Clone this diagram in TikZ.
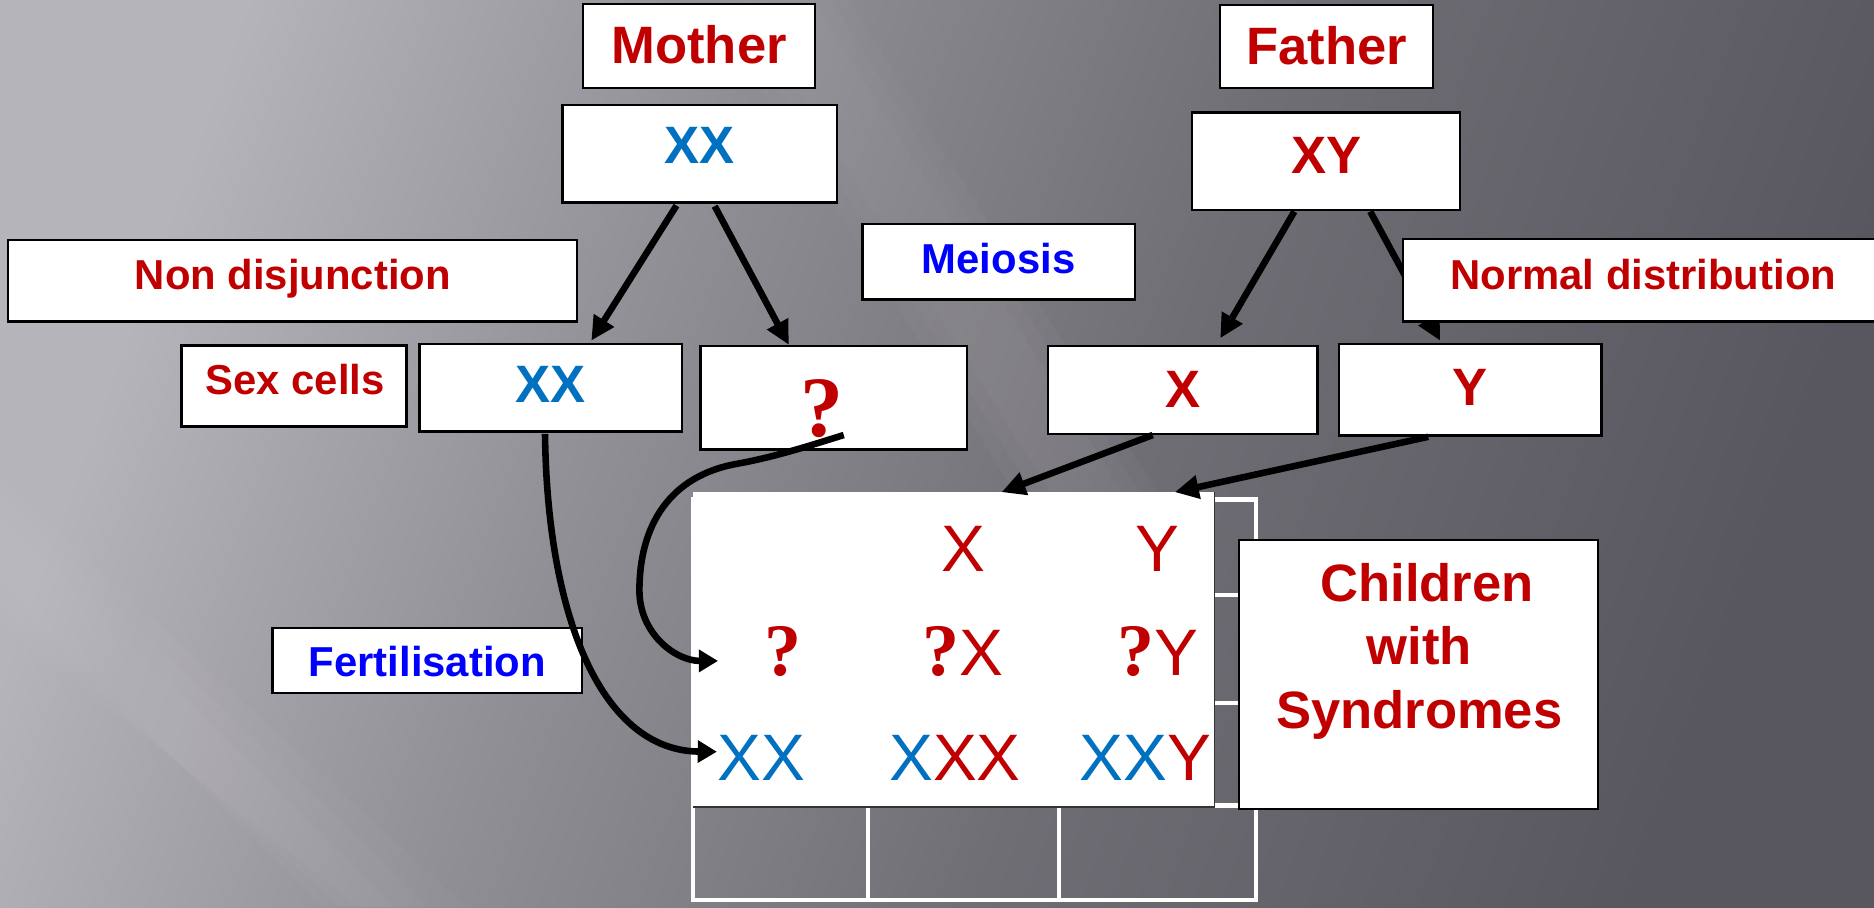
\documentclass[tikz,border=0pt]{standalone}
\usepackage{fontspec}
\setmainfont{Liberation Sans}
\newfontfamily\qfont{Liberation Serif}
\usetikzlibrary{arrows.meta,calc}
\definecolor{myred}{RGB}{192,0,0}
\definecolor{myblue}{RGB}{0,112,192}
\definecolor{pureblue}{RGB}{0,0,255}
\definecolor{bg1}{RGB}{182,180,187}
\definecolor{bg2}{RGB}{145,143,150}
\definecolor{bg3}{RGB}{112,110,117}
\definecolor{bg4}{RGB}{88,86,94}
\pgfdeclarehorizontalshading{bgshade}{100bp}{color(0bp)=(bg1); color(25bp)=(bg1); color(40bp)=(bg2); color(56bp)=(bg3); color(75bp)=(bg4); color(100bp)=(bg4)}
\tikzset{
  box/.style={draw=black, line width=2pt, fill=white, inner sep=0pt},
  tbig/.style={font=\bfseries\fontsize{44pt}{53pt}\selectfont, inner sep=0pt, anchor=base},
  tmid/.style={font=\bfseries\fontsize{35pt}{42pt}\selectfont, inner sep=0pt, anchor=base},
  tpun/.style={font=\fontsize{55pt}{66pt}\selectfont, inner sep=0pt, anchor=base, text=myred},
  arr/.style={line width=5.5pt, -{Triangle[length=20pt,width=19pt]}},
  carr/.style={line width=5.5pt, -{Triangle[length=16pt,width=18pt]}},
  gridl/.style={draw=white, line width=3.5pt},
  streak/.style={fill=white, opacity=0.025},
}
\newcommand{\qm}[1]{{\qfont\bfseries\fontsize{#1}{#1}\selectfont ?}}
\begin{document}
\begin{tikzpicture}[x=1pt,y=-1pt]
\clip (0,0) rectangle (1568,759);
\useasboundingbox (0,0) rectangle (1568,759);
% background
\fill[shading=bgshade, shading angle=-20] (0,0) rectangle (1568,759);
\foreach \d in {0,15,30} {
  \fill[streak] (620-\d,0) -- (680+\d,0) -- (950+\d,430) -- (890-\d,430) -- cycle;
  \fill[streak] (0,430-\d) -- (0,490+\d) -- (270+\d,759) -- (330+\d+\d,759) -- cycle;
}

% Punnett grid
\draw[gridl] (580,418) rectangle (1051,753);
\draw[gridl] (580,498) -- (1051,498);
\draw[gridl] (580,588) -- (1051,588);
\draw[gridl] (580,674) -- (1051,674);
\draw[gridl] (726,418) -- (726,753);
\draw[gridl] (886,418) -- (886,753);
\node[fill=white, inner sep=0pt, minimum width=436pt, minimum height=263pt] (pun) at (798,543.5) {};
\draw[black!80, line width=1.5pt] (pun.north east) -- (pun.south east) -- (pun.south west);

% boxes
\node[box, minimum width=194pt, minimum height=70pt] (mother) at (585,38.5) {};
\node[tbig, text=myred] (mother-t) at (585,53) {Mother};
\node[box, minimum width=230pt, minimum height=81.5pt] (mxx) at (585.5,128.75) {};
\node[tbig, text=myblue] (mxx-t) at (585.5,137) {XX};
\node[box, minimum width=178pt, minimum height=69.5pt] (father) at (1110,38.75) {};
\node[tbig, text=myred] (father-t) at (1110,54) {Father};
\node[box, minimum width=224pt, minimum height=81.5pt] (fxy) at (1109.5,134.75) {};
\node[tbig, text=myred] (fxy-t) at (1110,145) {XY};
\node[box, minimum width=476.5pt, minimum height=68pt] (nondis) at (244.75,235) {};
\node[tmid, text=myred] (nondis-t) at (245,242) {Non disjunction};
\node[box, minimum width=228pt, minimum height=63pt] (meiosis) at (835.5,219) {};
\node[tmid, text=pureblue] (meiosis-t) at (835.5,229) {Meiosis};
\node[box, minimum width=219.5pt, minimum height=73pt] (sxx) at (460.75,324.5) {};
\node[tbig, text=myblue] (sxx-t) at (461,337) {XX};
\node[box, minimum width=188pt, minimum height=68pt] (sexcells) at (246,323) {};
\node[tmid, text=myred] (sexcells-t) at (247,330) {Sex cells};
\node[box, minimum width=223pt, minimum height=86.5pt] (sq) at (697.5,332.75) {};
\node[inner sep=0pt, anchor=base, text=myred] (sq-t) at (688,365) {\qm{72pt}};
\node[box, minimum width=225.5pt, minimum height=73.5pt] (sx) at (989.75,326.25) {};
\node[tbig, text=myred] (sx-t) at (989.5,341) {X};
\node[box, minimum width=219.5pt, minimum height=76.5pt] (sy) at (1230.25,326.25) {};
\node[tbig, text=myred] (sy-t) at (1230,339) {Y};

% arrow XY -> Y goes under the Normal distribution box
\draw[arr] ($(fxy.south)+(37,0.5)$) -- ($(sy.north)+(-25.25,-2)$);
\node[box, minimum width=426pt, minimum height=69pt] (normal) at (1387,234.5) {};
\node[tmid, text=myred] (normal-t) at (1375,242) {Normal distribution};

\node[box, minimum width=259pt, minimum height=54.5pt] (fert) at (357.5,552.75) {};
\node[tmid, text=pureblue] (fert-t) at (357.5,566) {Fertilisation};

\node[box, minimum width=300.5pt, minimum height=225pt] (children) at (1186.75,564.5) {};
\node[font=\bfseries\fontsize{44pt}{53pt}\selectfont, text=myred, align=center, inner sep=0pt] (children-t) at (1187.5,545) {\hspace*{13pt}Children\\with\\Syndromes};

% Punnett contents
\node[tpun] (h1) at (806,478.5) {X};
\node[tpun] (h2) at (968.5,478.5) {Y};
\node[tpun] (r1) at (655,565) {\qm{62pt}};
\node[tpun] (c11) at (806,565) {\qm{62pt}X};
\node[tpun] (c12) at (969,565) {\qm{62pt}Y};
\node[tpun, text=myblue] (r2) at (637,652.7) {XX};
\node[tpun] (c21) at (799,652.7) {{\color{myblue}X}XX};
\node[tpun] (c22) at (958.6,652.7) {{\color{myblue}XX}Y};

% arrows
\draw[arr] ($(mxx.south)+(-19.5,1.5)$) -- ($(sxx.north)+(34,-2)$);
\draw[arr] ($(mxx.south)+(12.5,2)$) -- ($(sq.north)+(-37.5,0)$);
\draw[arr] ($(fxy.south)+(-26.5,0.5)$) -- ($(sx.north)+(31.25,-5.5)$);
\draw[arr] ($(sx.south)+(-25.25,0)$) -- ($(pun.north)+(40,0)$);
\draw[arr] ($(sy.south)+(-35.25,0)$) -- ($(pun.north)+(185,0)$);
\draw[carr] ($(sxx.south)+(-4.75,1)$) .. controls (458,520) and (505,628) .. ($(pun.west)+(20,85.5)$);
\draw[carr] ($(sq.south)+(8.5,-13)$) .. controls (680,372) and (650,382) .. (617,388)
  .. controls (560,398) and (535,440) .. (535,494)
  .. controls (535,530) and (565,553) .. ($(pun.west)+(21,9.5)$);
\end{tikzpicture}
\end{document}
